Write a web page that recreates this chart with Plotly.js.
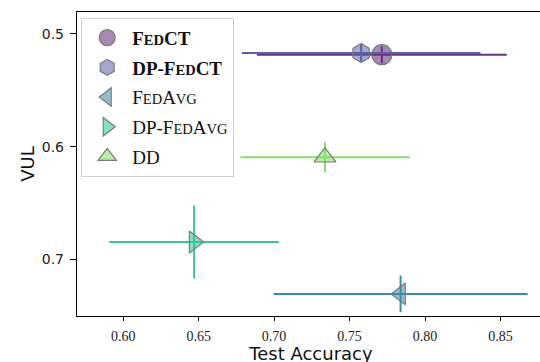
<!DOCTYPE html>
<html>
<head>
<meta charset="utf-8">
<script src="https://cdn.plot.ly/plotly-3.0.1.min.js"></script>
<style>
html, body { margin: 0; padding: 0; overflow: hidden; background: #fff; }
#chart { width: 545px; height: 364px; }
</style>
</head>
<body>
<div id="chart"></div>
<script>
// Data
const methods = ["FedCT", "DP-FedCT", "FedAvg", "DP-FedAvg", "DD"];
const legendLabels = [
  "<b>F<span style='font-size:14.5px'>ED</span>CT</b>",
  "<b>DP-F<span style='font-size:14.5px'>ED</span>CT</b>",
  "F<span style='font-size:14.5px'>ED</span>A<span style='font-size:14.5px'>VG</span>",
  "DP-F<span style='font-size:14.5px'>ED</span>A<span style='font-size:14.5px'>VG</span>",
  "DD"
];
const accuracy    = [0.7714, 0.7577, 0.7838, 0.6470, 0.7337];
const accuracyErr = [0.0828, 0.0790, 0.0842, 0.0562, 0.0561];
const vul         = [0.5184, 0.5169, 0.7307, 0.6846, 0.6094];
const vulErr      = [0.0075, 0.0075, 0.0163, 0.0324, 0.0133];

const lineColors = ["#67307d", "#5a60a8", "#3b8ca2", "#3cc49e", "#88dd6a"];
const fillColors = ["rgba(103,48,125,0.58)", "rgba(90,96,168,0.55)", "rgba(59,140,162,0.55)", "rgba(60,196,158,0.6)", "rgba(136,221,106,0.6)"];
const symbols = ["circle", "hexagon", "triangle-left", "triangle-right", "triangle-up"];
const sizes = [20, 19, 19, 19, 19];

const traces = methods.map((m, i) => ({
  type: "scatter",
  mode: "markers",
  name: legendLabels[i],
  legendgroup: m,
  x: [accuracy[i]],
  y: [vul[i]],
  error_x: { type: "data", array: [accuracyErr[i]], color: lineColors[i], thickness: 2, width: 0 },
  error_y: { type: "data", array: [vulErr[i]], color: lineColors[i], thickness: 2, width: 0 },
  marker: { symbol: symbols[i], size: sizes[i], color: fillColors[i], line: { color: "#7a7a7a", width: 1.2 } }
}));

const layout = {
  width: 545,
  height: 364,
  margin: { l: 77, r: 0, t: 12, b: 48 },
  paper_bgcolor: "#fff",
  plot_bgcolor: "#fff",
  showlegend: true,
  legend: {
    x: 0.009, y: 0.981, xanchor: "left", yanchor: "top",
    bgcolor: "#fff", bordercolor: "#d0d0d0", borderwidth: 1,
    font: { family: "Liberation Serif", size: 19, color: "#111" },
    tracegroupgap: 2,
    itemwidth: 40,
    itemsizing: "trace"
  },
  xaxis: {
    range: [0.5694, 0.8795],
    tickvals: [0.60, 0.65, 0.70, 0.75, 0.80, 0.85],
    tickformat: ".2f",
    ticks: "outside", ticklen: 4, tickcolor: "#000", tickwidth: 1,
    ticklabelposition: "outside",
    ticklabelstandoff: 3,
    showline: true, linecolor: "#000", linewidth: 1.2, mirror: true,
    showgrid: false, zeroline: false,
    tickfont: { family: "Liberation Serif", size: 14, color: "#222" },
    title: { text: "Test Accuracy", font: { family: "DejaVu Sans", size: 18, color: "#111" }, standoff: 2 }
  },
  yaxis: {
    range: [0.7503, 0.4805],
    tickvals: [0.5, 0.6, 0.7],
    tickformat: ".1f",
    ticks: "outside", ticklen: 6, tickcolor: "#000", tickwidth: 1,
    ticklabelstandoff: 3,
    showline: true, linecolor: "#000", linewidth: 1.2, mirror: false,
    showgrid: false, zeroline: false,
    tickfont: { family: "DejaVu Sans", size: 14, color: "#222" },
    title: { text: "VUL", font: { family: "DejaVu Sans", size: 18, color: "#111" }, standoff: 2 }
  }
};

Plotly.newPlot("chart", traces, layout, { displayModeBar: false, staticPlot: true });
</script>
</body>
</html>
